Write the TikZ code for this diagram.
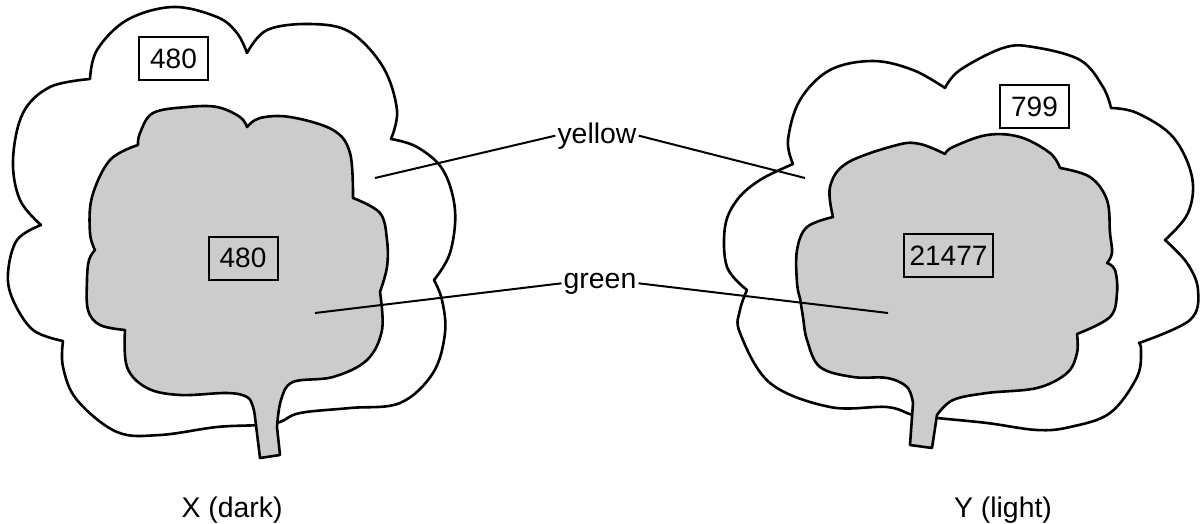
\documentclass[tikz,border=0pt]{standalone}
\usepackage{fontspec}
\setmainfont{Liberation Sans}
\begin{document}
\begin{tikzpicture}[x=1pt,y=-1pt,
  outerleaf/.style={draw=black,fill=white,line width=2.6pt,line join=round},
  innerleaf/.style={draw=black,fill=black!20,line width=2.6pt,line join=round},
  lobe/.style={smooth,tension=0.6},
  numbox/.style={draw=black,line width=2pt,fill=none,minimum height=43pt,inner xsep=4pt,
    font=\fontsize{28}{33}\selectfont},
  tag/.style={font=\fontsize{28.4}{34}\selectfont,inner sep=2pt},
  leader/.style={line width=2pt}]
\useasboundingbox (0,0) rectangle (1204,524);

% ---------- leaf X ----------
\draw[outerleaf] (90,79)
  -- plot[lobe] coordinates {(90,79) (97,50) (127,20) (173,7) (217,17) (237,33) (247,53)}
  -- plot[lobe] coordinates {(247,53) (267,30) (310,24) (350,32) (383,67) (397,110) (391,139)}
  -- plot[lobe] coordinates {(391,139) (417,147) (443,170) (455,210) (450,253) (434,280)}
  -- plot[lobe] coordinates {(434,280) (442,300) (445,333) (433,373) (400,403) (350,408) (300,413) (280,422) (260,425) (217,427) (160,435) (117,432) (77,400) (63,367) (63,341)}
  -- plot[lobe] coordinates {(63,341) (33,330) (13,300) (8,273) (17,240) (41,225)}
  -- plot[lobe] coordinates {(41,225) (20,200) (13,160) (23,113) (50,87) (90,79)}
  -- cycle;

\draw[innerleaf] (138,145)
  -- plot[lobe] coordinates {(138,145) (140,133) (153,113) (187,107) (217,107) (240,117) (247,127)}
  -- plot[lobe] coordinates {(247,127) (260,118) (290,117) (333,130) (350,153) (353,198)}
  -- plot[lobe] coordinates {(353,198) (380,213) (387,240) (387,267) (380,292)}
  -- plot[lobe] coordinates {(380,292) (382,330) (367,360) (333,377) (293,382) (281,400) (277,427)}
  -- (280,455) -- (260,458) -- (255,417)
  -- plot[lobe] coordinates {(255,417) (253,407) (247,397) (227,393) (180,395) (147,388) (127,367) (125,330)}
  -- plot[lobe] coordinates {(125,330) (100,325) (88,310) (87,280) (89,260) (95,250)}
  -- plot[lobe] coordinates {(95,250) (90,233) (92,197) (110,160) (138,145)}
  -- cycle;

\node[numbox,minimum width=69pt] (xouter) at (173.5,58.5) {480};
\node[numbox,minimum width=69pt] (xinner) at (243,258) {480};
\node[tag,anchor=base] (xname) at (232,517) {X (dark)};

% ---------- leaf Y ----------
\draw[outerleaf] (793,164)
  -- plot[lobe] coordinates {(793,164) (788,140) (800,100) (830,70) (873,61) (913,70) (945,88)}
  -- plot[lobe] coordinates {(945,88) (960,70) (1003,48) (1033,47) (1080,60) (1103,87) (1111,108)}
  -- plot[lobe] coordinates {(1111,108) (1137,113) (1173,137) (1192,177) (1188,213) (1165,240)}
  -- plot[lobe] coordinates {(1165,240) (1187,263) (1198,290) (1190,320) (1139,343)}
  -- plot[lobe] coordinates {(1139,343) (1141,350) (1137,377) (1110,413) (1070,427) (1037,430) (987,423) (937,418) (913,415) (887,407) (830,407) (770,383) (740,333) (740,310) (747,290)}
  -- plot[lobe] coordinates {(747,290) (727,267) (725,227) (737,200) (760,180) (793,164)}
  -- cycle;

\draw[innerleaf] (833,217)
  -- plot[lobe] coordinates {(833,217) (830,187) (847,163) (897,145) (920,144) (945,154)}
  -- plot[lobe] coordinates {(945,154) (953,147) (987,135) (1020,137) (1050,153) (1060,168)}
  -- plot[lobe] coordinates {(1060,168) (1090,177) (1107,200) (1110,233) (1112,253) (1107,263)}
  -- plot[lobe] coordinates {(1107,263) (1115,270) (1117,293) (1110,317) (1077,334)}
  -- plot[lobe] coordinates {(1077,334) (1077,353) (1067,373) (1037,388) (987,393) (953,400) (937,415)}
  -- (932,448) -- (910,445) -- (913,403)
  -- plot[lobe] coordinates {(913,403) (907,387) (887,378) (853,377) (820,367) (807,340) (803,317) (800,298)}
  -- plot[lobe] coordinates {(800,298) (797,283) (797,250) (807,227) (833,217)}
  -- cycle;

\node[numbox,minimum width=69pt] (youter) at (1034.5,107) {799};
\node[numbox,minimum width=89pt] (yinner) at (948.5,255.5) {21477};
\node[tag,anchor=base] (yname) at (1003,517) {Y (light)};

% ---------- shared labels ----------
\node[tag,anchor=base] (yellow) at (597,143) {yellow};
\node[tag,anchor=base] (green) at (600,288) {green};

\coordinate (xyel) at (375,178);
\coordinate (yyel) at (805,178);
\coordinate (xgrn) at (315,313);
\coordinate (ygrn) at (888,313);

\draw[leader] (yellow.west) -- (xyel);
\draw[leader] (yellow.east) -- (yyel);
\draw[leader] (green.west) -- (xgrn);
\draw[leader] (green.east) -- (ygrn);
\end{tikzpicture}
\end{document}
